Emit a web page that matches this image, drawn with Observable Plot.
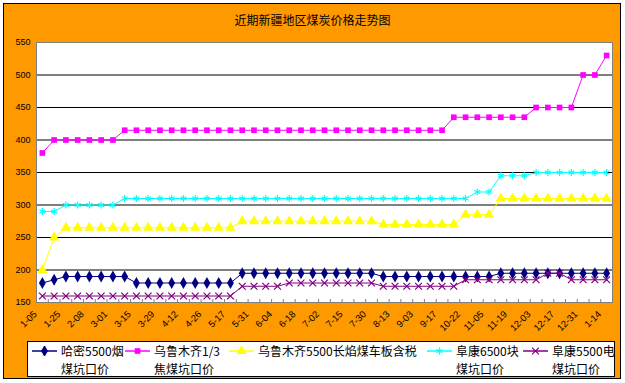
<!DOCTYPE html>
<html>
<head>
<meta charset="utf-8">
<script src="https://cdn.jsdelivr.net/npm/d3@7"></script>
<script src="https://cdn.jsdelivr.net/npm/@observablehq/plot@0.6"></script>
<style>
  html, body { margin: 0; padding: 0; background: #ffffff; }
  body { width: 625px; height: 383px; position: relative; overflow: hidden; font-family: "Noto Sans CJK SC", "Liberation Sans", sans-serif; }
  #frame { position: absolute; left: 3px; top: 3px; width: 618px; height: 376px; box-sizing: border-box; border: 1px solid #000; background: #FF9900; }
  #title { position: absolute; left: 0; top: 12px; width: 625px; text-align: center; font-size: 12px; color: #000; line-height: 16px; }
  #chart { position: absolute; left: 0; top: 0; }
  #legend { position: absolute; left: 27px; top: 341px; width: 588px; height: 36px; box-sizing: border-box; border: 1px solid #000; background: #fff; }
  .item { position: absolute; top: 0px; display: flex; align-items: flex-start; }
  .item svg { margin-top: 4px; }
  .item span { font-size: 12px; line-height: 17.5px; color: #000; white-space: nowrap; }
</style>
</head>
<body>
<div id="frame"></div>
<div id="title">近期新疆地区煤炭价格走势图</div>
<div id="chart"></div>
<div id="legend"></div>
<script>
// ---- data ----
const tickLabels = ["1-05","1-25","2-08","3-01","3-15","3-29","4-12","4-26","5-17","5-31","6-04","6-18","7-02","7-15","7-30","8-13","9-03","9-17","10-22","11-05","11-19","12-03","12-17","12-31","1-14"];
const seriesNames = ["哈密5500烟煤坑口价","乌鲁木齐1/3焦煤坑口价","乌鲁木齐5500长焰煤车板含税","阜康6500块煤坑口价","阜康5500电煤坑口价"];
const legendLines = [["哈密5500烟","煤坑口价"],["乌鲁木齐1/3","焦煤坑口价"],["乌鲁木齐5500长焰煤车板含税"],["阜康6500块","煤坑口价"],["阜康5500电","煤坑口价"]];
const hami5500 = [180,185,190,190,190,190,190,190,180,180,180,180,180,180,180,180,180,195,195,195,195,195,195,195,195,195,195,195,195,190,190,190,190,190,190,190,190,190,190,195,195,195,195,195,195,195,195,195,195];
const wlmq13 = [380,400,400,400,400,400,400,415,415,415,415,415,415,415,415,415,415,415,415,415,415,415,415,415,415,415,415,415,415,415,415,415,415,415,415,435,435,435,435,435,435,435,450,450,450,450,500,500,530];
const wlmq5500 = [200,250,265,265,265,265,265,265,265,265,265,265,265,265,265,265,265,275,275,275,275,275,275,275,275,275,275,275,275,270,270,270,270,270,270,270,285,285,285,310,310,310,310,310,310,310,310,310,310];
const fk6500 = [290,290,300,300,300,300,300,310,310,310,310,310,310,310,310,310,310,310,310,310,310,310,310,310,310,310,310,310,310,310,310,310,310,310,310,310,310,320,320,345,345,345,350,350,350,350,350,350,350];
const fk5500 = [160,160,160,160,160,160,160,160,160,160,160,160,160,160,160,160,160,175,175,175,175,180,180,180,180,180,180,180,180,175,175,175,175,175,175,175,185,185,185,185,185,185,185,195,195,185,185,185,185];
const yTicks = [150,200,250,300,350,400,450,500,550];

// ---- styles per series ----
const styles = [
  {color: "#000080", symbol: "diamond", r: 3.6, filled: true},
  {color: "#FF00FF", symbol: "square", r: 3.2, filled: true},
  {color: "#FFFF00", symbol: "triangle", r: 3.8, filled: true},
  {color: "#00FFFF", symbol: "asterisk", r: 3.2, filled: false},
  {color: "#800080", symbol: "times", r: 3.2, filled: false}
];
const allSeries = [hami5500, wlmq13, wlmq5500, fk6500, fk5500];
const n = hami5500.length;
const tables = allSeries.map(vals => vals.map((v, i) => ({i, v})));
const labelIdx = tickLabels.map((_, k) => k * 2);
const bounds = d3.range(n + 1).map(k => k - 0.5);
const grid = yTicks.slice(1, -1);

const marks = [
  Plot.frame({fill: "#ffffff", stroke: null}),
  Plot.ruleY(grid, {stroke: "#000000", strokeWidth: 1}),
  Plot.ruleX(bounds, {y1: 150, y2: 150, insetBottom: 3, stroke: "#808080"}),
];
tables.forEach((t, s) => {
  const st = styles[s];
  marks.push(Plot.line(t, {x: "i", y: "v", stroke: st.color, strokeWidth: 1}));
  marks.push(Plot.dot(t, st.filled
    ? {x: "i", y: "v", symbol: () => st.symbol, r: st.r, fill: st.color, stroke: "none"}
    : {x: "i", y: "v", symbol: () => st.symbol, r: st.r, stroke: st.color, strokeWidth: 1.2, fill: "none"}));
});
marks.push(Plot.frame({stroke: "#808080"}));
marks.push(Plot.axisY({ticks: yTicks, label: null, tickSize: 0, tickPadding: 6, fontSize: 9, fill: "#000"}));
marks.push(Plot.axisX({ticks: labelIdx, label: null, tickFormat: i => tickLabels[i / 2], tickSize: 0, tickPadding: 10, tickRotate: -45, fontSize: 9.5, dx: -7, fill: "#000", style: {letterSpacing: "0.9px"}}));

const chart = Plot.plot({
  width: 625,
  height: 340,
  marginLeft: 36,
  marginRight: 13,
  marginTop: 42,
  marginBottom: 38,
  style: {background: "transparent", fontFamily: "'Liberation Sans', Arial, sans-serif", color: "#000", overflow: "visible"},
  x: {type: "linear", domain: [-0.5, n - 0.5], axis: null},
  y: {domain: [150, 550], axis: null},
  symbol: {type: "identity"},
  marks
});
document.getElementById("chart").appendChild(chart);

// ---- legend ----
const lefts = [3, 96, 200, 398, 494];
const legend = d3.select("#legend");
seriesNames.forEach((name, s) => {
  const st = styles[s];
  const item = legend.append("div").attr("class", "item").style("left", lefts[s] + "px");
  const sv = item.append("svg").attr("width", 27).attr("height", 10);
  sv.append("line").attr("x1", 1).attr("x2", 26).attr("y1", 5).attr("y2", 5).attr("stroke", st.color).attr("stroke-width", 1.5);
  const sym = d3.symbol().type({diamond: d3.symbolDiamond, square: d3.symbolSquare, triangle: d3.symbolTriangle, asterisk: d3.symbolAsterisk, times: d3.symbolTimes}[st.symbol]).size(st.r * st.r * Math.PI);
  sv.append("path").attr("d", sym()).attr("transform", "translate(13.5,5)")
    .attr("fill", st.filled ? st.color : "none").attr("stroke", st.filled ? "none" : st.color).attr("stroke-width", 1.2);
  item.append("span").style("margin-left", "3px").html(legendLines[s].join("<br>"));
});
</script>
</body>
</html>
